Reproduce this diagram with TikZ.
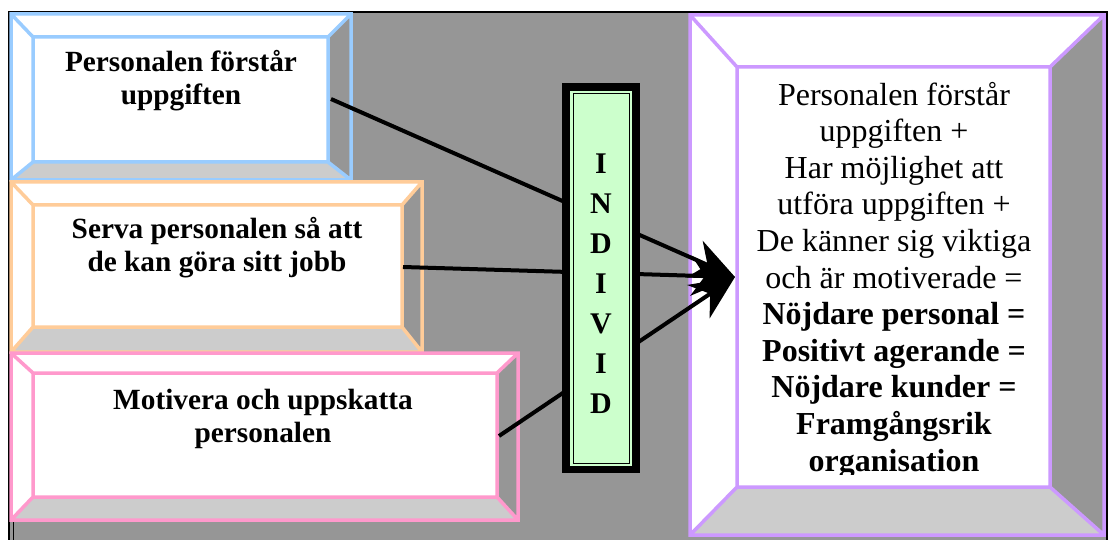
\documentclass[tikz,border=0pt]{standalone}
\usepackage{fontspec}
\setmainfont{Liberation Serif}
\usetikzlibrary{arrows.meta}
\definecolor{bgray}{HTML}{969696}
\definecolor{lgray}{HTML}{CCCCCC}
\definecolor{cblue}{HTML}{99CCFF}
\definecolor{corange}{HTML}{FFCC99}
\definecolor{cpink}{HTML}{FF99CC}
\definecolor{cpurple}{HTML}{CC99FF}
\definecolor{cgreen}{HTML}{CCFFCC}
\newcommand\bevelbox[9]{%
  \fill[white] (#2,#3) rectangle (#4,#5);
  \fill[bgray] (#4,#3) -- (#4,#5) -- (#8,#9) -- (#8,#7) -- cycle;
  \fill[lgray] (#2,#5) -- (#4,#5) -- (#8,#9) -- (#6,#9) -- cycle;
  \draw[draw=#1,bevelline] (#2,#3) rectangle (#4,#5) (#6,#7) rectangle (#8,#9)
    (#2,#3) -- (#6,#7) (#4,#3) -- (#8,#7) (#4,#5) -- (#8,#9) (#2,#5) -- (#6,#9);
}
\tikzset{
  bevelline/.style={line width=3.5pt,line join=miter},
  boxtext/.style={font=\fontsize{29.3}{33}\selectfont\bfseries,align=center,inner sep=0pt,anchor=base},
  restext/.style={font=\fontsize{32}{36.6}\selectfont,align=center,inner sep=0pt,anchor=base},
  indtext/.style={font=\fontsize{30}{40}\selectfont\bfseries,align=center,inner sep=0pt,anchor=base},
  conn/.style={line width=4pt,-{Stealth[length=44pt,width=40pt,inset=14pt]}},
}
\begin{document}
\begin{tikzpicture}[x=1pt,y=-1pt]
\useasboundingbox (0,0) rectangle (1109,540);
\clip (0,0) rectangle (1109,540);
\fill[white] (0,0) rectangle (1109,540);
% frame
\fill[bgray] (9,12) rectangle (1107,560);
\draw[black,line width=2.5pt] (9,12) rectangle (1107,560);
\draw[black,line width=1pt] (13,15) -- (13,560);
% left boxes
\bevelbox{cblue}{11}{14}{351}{180}{33}{37}{328}{162}
\bevelbox{corange}{11}{182}{422}{352}{33}{205}{402}{327}
\bevelbox{cpink}{11}{353}{518}{520}{33}{373}{497}{497}
% result box
\bevelbox{cpurple}{690}{15}{1104}{535}{737}{67}{1050}{487}
% texts (anchor base = baseline of last line)
\node[boxtext] (t1) at (181,105) {Personalen förstår\\uppgiften};
\node[boxtext] (t2) at (217,272) {Serva personalen så att\\de kan göra sitt jobb};
\node[boxtext] (t3) at (263,442) {Motivera och uppskatta\\personalen};
\begin{scope}
\clip (737,67) rectangle (1050,474);
\node[restext] (res) at (894,471) {Personalen förstår\\uppgiften +\\Har möjlighet att\\utföra uppgiften +\\De känner sig viktiga\\och är motiverade =\\\textbf{Nöjdare personal =}\\\textbf{Positivt agerande =}\\\textbf{Nöjdare kunder =}\\\textbf{Framgångsrik}\\\textbf{organisation}};
\end{scope}
% connectors
\coordinate (s1) at (331,99);
\coordinate (s2) at (403,267);
\coordinate (s3) at (499,436);
\coordinate (tip) at (735,277);
\draw[conn] (s1) -- (tip);
\draw[conn] (s2) -- (tip);
\draw[conn] (s3) -- (tip);
% INDIVID
\fill[black] (562,83) rectangle (640,473);
\fill[cgreen] (570,91) rectangle (632,466);
\draw[black,line width=1pt] (573,94) rectangle (629,463);
\node[indtext] (ind) at (601,413) {I\\N\\D\\I\\V\\I\\D};
\end{tikzpicture}
\end{document}
